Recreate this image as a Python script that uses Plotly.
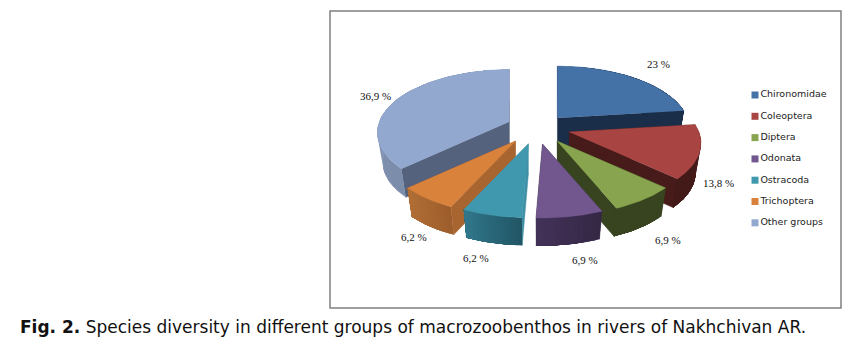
import math
import numpy as np
import plotly.graph_objects as go

# ---- data ----
groups = ["Chironomidae", "Coleoptera", "Diptera", "Odonata", "Ostracoda", "Trichoptera", "Other groups"]
shares = [23, 13.8, 6.9, 6.9, 6.2, 6.2, 36.9]
caption_bold = "Fig. 2."
caption_text = " Species diversity in different groups of macrozoobenthos in rivers of Nakhchivan AR."

# ---- styling ----
top_colors = ["#4471A6", "#A84543", "#88A44E", "#71578E", "#4098AE", "#D9823C", "#93A8CF"]
arc_start = [(0x1A, 0x2E, 0x49), (0x4A, 0x1C, 0x1A), (0x37, 0x44, 0x1F), (0x34, 0x28, 0x45),
             (0x22, 0x57, 0x66), (0x9E, 0x5E, 0x2C), (0x7C, 0x8D, 0xAB)]
arc_end = [(0x1A, 0x2E, 0x49), (0x42, 0x1A, 0x18), (0x37, 0x44, 0x1F), (0x42, 0x32, 0x58),
           (0x30, 0x76, 0x8A), (0xB0, 0x6E, 0x36), (0x9A, 0xAD, 0xCE)]
cut_colors = ["#1A2E49", "#461B19", "#37441F", "#3E2F51", "#3F8FA5", "#A96530", "#55627E"]
label_offsets = [(25, -14), (19, 31), (24, 41), (15, 43), (-16, 43), (-13, 39), (-22, -3)]
apex_nudges = [(0, 3), (0, 0), (1, 0), (1, 0), (2, 0), (2, 0), (6, 1)]
draw_order = [0, 6, 1, 5, 2, 4, 3]

CX, CY = 535, 127
RX, RY, K = 130, 61, 0.175
EXPLODE, DEPTH = 0.27, 30
KEY_X, KEY_TOP, KEY_PITCH = 755, 95, 21.3
STRIPS = 14


def project(X, Y):
    s = 1 / (1 + K * Y)
    return RX * X * s, -RY * Y * s


cum = np.cumsum([0] + shares) / sum(shares) * 2 * math.pi
fig = go.Figure()


def poly(xs, ys, color, group, width=0.5):
    fig.add_trace(go.Scatter(x=list(xs), y=list(ys), mode="lines", fill="toself", fillcolor=color,
                             line=dict(width=width, color=color), hoverinfo="skip",
                             showlegend=False, name=group))


label_pos = []
for i in draw_order:
    a0, a1 = cum[i], cum[i + 1]
    mid = (a0 + a1) / 2
    ax, ay = project(EXPLODE * math.sin(mid), EXPLODE * math.cos(mid))
    ax, ay = CX + ax + apex_nudges[i][0], CY + ay + apex_nudges[i][1]
    th = np.linspace(a0, a1, STRIPS * 4 + 1)
    px, py = zip(*[project(math.sin(t), math.cos(t)) for t in th])
    px, py = np.array(px), np.array(py)
    tx, ty = ax + px, ay + py
    bx, by = ax + px * 0.96, ay + py * 0.97 + DEPTH
    # cut faces
    for k in (0, -1):
        poly([ax, tx[k], bx[k], ax], [ay, ty[k], by[k], ay + DEPTH], cut_colors[i], groups[i])
    # outer wall, shaded along its length; each band runs to the arc's end so no seams show
    for n in range(STRIPS):
        lo = n * 4
        f = n / (STRIPS - 1)
        c = [round(s + (e - s) * f) for s, e in zip(arc_start[i], arc_end[i])]
        poly(np.r_[tx[lo:], bx[lo:][::-1]], np.r_[ty[lo:], by[lo:][::-1]],
             "rgb({},{},{})".format(*c), groups[i], width=0)
    # top face
    poly(np.r_[ax, tx], np.r_[ay, ty], top_colors[i], groups[i])
    mx, my = project(math.sin(mid), math.cos(mid))
    label_pos.append((i, ax + mx + label_offsets[i][0], ay + my + label_offsets[i][1]))

# colour key
for i, g in enumerate(groups):
    fig.add_trace(go.Scatter(x=[KEY_X], y=[KEY_TOP + i * KEY_PITCH], mode="markers+text", name=g,
                             text=[g], textposition="middle right",
                             textfont=dict(family="DejaVu Sans", size=9.5, color="#222222"),
                             marker=dict(symbol="square", size=7, color=top_colors[i]),
                             hoverinfo="name", showlegend=False))

for i, x, y in label_pos:
    fig.add_annotation(x=x, y=y, text=f"{shares[i]} %".replace(".", ","), showarrow=False,
                       font=dict(family="Liberation Serif", size=11, color="#111111"))

fig.add_annotation(xref="paper", yref="paper", x=18 / 858, y=1 - 327 / 352, xanchor="left", yanchor="middle",
                   text=f"<b>{caption_bold}</b>{caption_text}", showarrow=False,
                   font=dict(family="DejaVu Sans", size=17, color="#111111"))

fig.update_layout(
    width=858, height=352, margin=dict(l=0, r=0, t=0, b=0), paper_bgcolor="white", plot_bgcolor="white",
    showlegend=False,
    xaxis=dict(range=[0, 858], visible=False, fixedrange=True),
    yaxis=dict(range=[352, 0], visible=False, fixedrange=True),
    shapes=[dict(type="rect", x0=330, x1=841, y0=11, y1=308, xref="x", yref="y",
                 line=dict(color="#808080", width=1.5), layer="below")],
)
fig.write_html("out.html", config=dict(displayModeBar=False),
               post_script="document.body.style.margin='0';document.body.style.overflow='hidden';")
